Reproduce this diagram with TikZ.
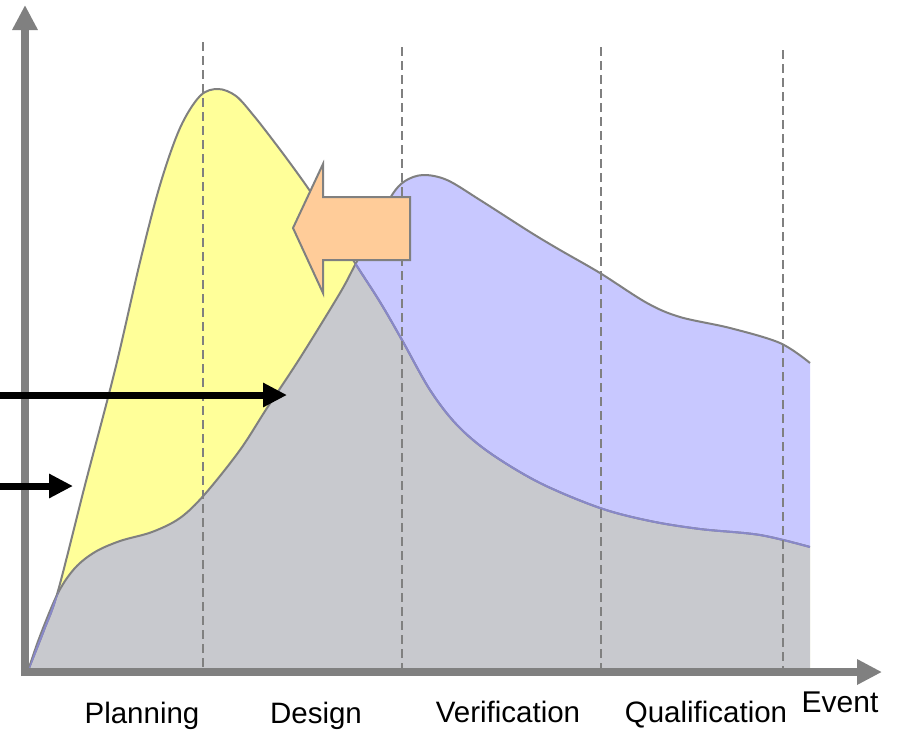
\documentclass[tikz,border=0pt]{standalone}
\usepackage{fontspec}
\setmainfont{Liberation Sans}
\usetikzlibrary{arrows.meta}

\definecolor{yellowfill}{HTML}{FFFF99}
\definecolor{bluefill}{HTML}{C8C8FF}
\definecolor{grayfill}{HTML}{C8C9CE}
\definecolor{orangefill}{HTML}{FFCC99}
\definecolor{linegray}{HTML}{808080}
\definecolor{lineblue}{HTML}{8888C8}

\tikzset{
  axisline/.style={draw=linegray, line width=8pt, -{Triangle[length=25pt,width=24pt]}},
  phaseline/.style={draw=linegray, line width=2.4pt, dash pattern=on 9pt off 5pt},
  edgeline/.style={draw=linegray, line width=2pt},
  pointer/.style={line width=7pt, -{Triangle[length=24pt,width=23pt]}},
  blockarrow/.style={fill=orangefill, draw=linegray, line width=2pt, line join=miter},
  phaselabel/.style={font=\fontsize{29.5}{32}\selectfont, anchor=base},
}

% effort curves (pixel grid, y downwards)
\newcommand\yellowline{plot[smooth,tension=0.55] coordinates {(29,668) (44,630) (58,591) (85,485) (115,370) (140,262) (160,185) (180,128) (200,96) (218,89) (236,96) (254,116) (272,139) (290,163) (310,191) (330,222) (355,263) (380,302) (402,340) (430,390) (457,425) (490,453) (540,483) (600,508) (650,521) (700,529) (760,535) (810,547)}}
\newcommand\blueline{plot[smooth,tension=0.55] coordinates {(29,668) (40,636) (58,593) (75,568) (95,552) (120,541) (152,532) (180,518) (205,494) (240,450) (267,408) (300,358) (340,293) (355,265) (375,228) (392,195) (405,181) (423,175) (447,180) (480,200) (530,232) (560,250) (600,273) (647,303) (680,317) (730,328) (780,343) (810,363)}}

\begin{document}
\begin{tikzpicture}[x=1pt,y=-1pt]
    \useasboundingbox (0,0) rectangle (899,729);
    % areas
    \fill[yellowfill] \yellowline -- (810,672) -- (29,672) -- cycle;
    \fill[bluefill] \blueline -- (810,672) -- (29,672) -- cycle;
    \begin{scope}
        \clip \yellowline -- (810,672) -- (29,672) -- cycle;
        \fill[grayfill] \blueline -- (810,672) -- (29,672) -- cycle;
    \end{scope}
    \draw[edgeline] \yellowline;
    \draw[edgeline] \blueline;
    \begin{scope}
        \clip \blueline -- (810,672) -- (29,672) -- cycle;
        \draw[edgeline, draw=lineblue] \yellowline;
    \end{scope}
    % phase borders
    \draw[phaseline] (203,42) -- (203,668);
    \draw[phaseline] (402,47) -- (402,668);
    \draw[phaseline] (601,47) -- (601,668);
    \draw[phaseline] (783,50) -- (783,668);
    % axes
    \draw[axisline] (25,676) -- (25,5);
    \draw[axisline] (21,672) -- (882,672);
    % arrows
    \coordinate (upstart) at (0,395);
    \coordinate (upend) at (287,395);
    \coordinate (lowstart) at (0,486);
    \coordinate (lowend) at (73,486);
    \draw[pointer] (upstart) -- (upend);
    \draw[pointer] (lowstart) -- (lowend);
    \draw[blockarrow] (293,228) -- (323,164) -- (323,197) -- (410,197) -- (410,260) -- (323,260) -- (323,293) -- cycle;
    % labels
    \node[phaselabel] (plan) at (142,723) {Planning};
    \node[phaselabel] (design) at (316,723) {Design};
    \node[phaselabel] (verif) at (508,722) {Verification};
    \node[phaselabel] (qual) at (706,722) {Qualification};
    \node[phaselabel, font=\fontsize{30}{32}\selectfont] (event) at (840,712) {Event};
\end{tikzpicture}
\end{document}
